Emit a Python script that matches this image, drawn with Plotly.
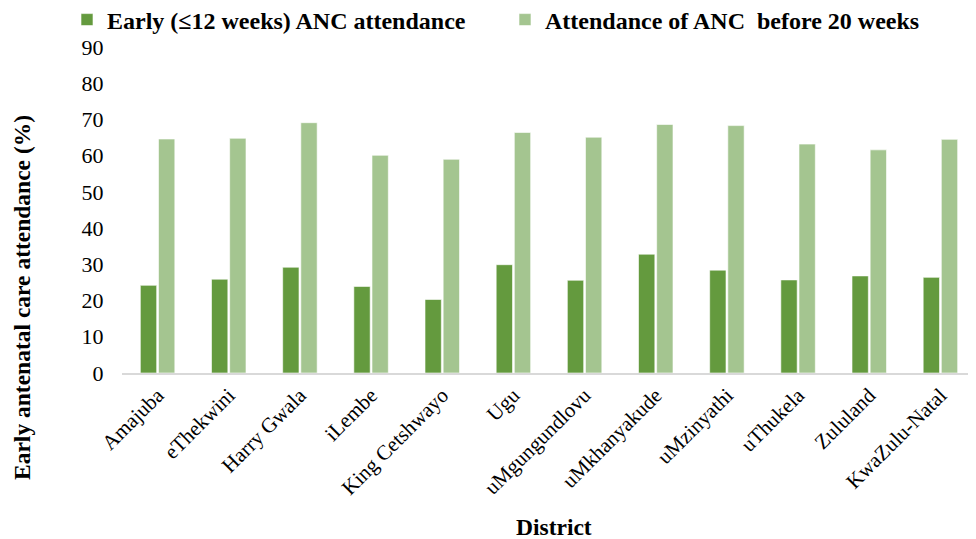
import plotly.graph_objects as go

districts = ["Amajuba", "eThekwini", "Harry Gwala", "iLembe", "King Cetshwayo", "Ugu",
             "uMgungundlovu", "uMkhanyakude", "uMzinyathi", "uThukela", "Zululand", "KwaZulu-Natal"]
early_12wk = [24.2, 25.9, 29.2, 23.9, 20.3, 29.9, 25.6, 32.8, 28.4, 25.7, 26.8, 26.4]
before_20wk = [64.6, 64.8, 69.1, 60.1, 59.0, 66.4, 65.1, 68.6, 68.3, 63.2, 61.6, 64.5]
y_ticks = [0, 10, 20, 30, 40, 50, 60, 70, 80, 90]

FONT = "Liberation Serif"
OFF = 8  # page body margin offset
W, H = 976 - OFF, 539 - OFF
L, R, T, B = 122 - OFF, 0, 47 - OFF, 166

fig = go.Figure()
fig.add_trace(go.Bar(x=districts, y=early_12wk, name="Early (≤12 weeks) ANC attendance",
                     legend="legend", showlegend=True,
                     marker=dict(color="#649A3E", line=dict(color="#FFFFFF", width=0.6))))
fig.add_trace(go.Bar(x=districts, y=before_20wk, name="Attendance of ANC  before 20 weeks",
                     legend="legend2", showlegend=True,
                     marker=dict(color="#A4C590", line=dict(color="#FFFFFF", width=0.6))))

plot_w = W - L - R
plot_h = H - T - B

leg_font = dict(family=FONT, size=24, color="black", weight="bold")
leg_y = 1 - (20 - OFF) / H
fig.update_layout(
    width=W, height=H,
    showlegend=True,
    margin=dict(l=L, r=R, t=T, b=B, autoexpand=False),
    paper_bgcolor="white", plot_bgcolor="white",
    barmode="group", bargap=0.49, bargroupgap=0.1,
    font=dict(family=FONT, size=20, color="black"),
    legend=dict(orientation="h", xref="container", yref="container",
                x=(67 - OFF) / W, y=leg_y, xanchor="left", yanchor="middle",
                font=leg_font, bgcolor="rgba(0,0,0,0)"),
    legend2=dict(orientation="h", xref="container", yref="container",
                 x=(505 - OFF) / W, y=leg_y, xanchor="left", yanchor="middle",
                 font=leg_font, bgcolor="rgba(0,0,0,0)"),
    xaxis=dict(tickangle=-45, tickfont=dict(family=FONT, size=21), showline=True,
               linecolor="#D9D9D9", linewidth=1.5, ticks="", showgrid=False, automargin=False),
    yaxis=dict(range=[0, 90], tickvals=y_ticks, tickfont=dict(family=FONT, size=22),
               showgrid=False, zeroline=False, showline=False, automargin=False,
               ticks="outside", ticklen=13, tickcolor="rgba(0,0,0,0)"),
    annotations=[
        dict(text="<b>Early antenatal care attendance (%)</b>",
             x=(22 - OFF - L) / plot_w, y=(H - B - (298 - OFF)) / plot_h,
             xref="paper", yref="paper", xanchor="center", yanchor="middle",
             showarrow=False, textangle=-90, font=dict(family=FONT, size=23.5)),
        dict(text="<b>District</b>",
             x=(554 - OFF - L) / plot_w, y=(H - B - (527 - OFF)) / plot_h,
             xref="paper", yref="paper", xanchor="center", yanchor="middle",
             showarrow=False, font=dict(family=FONT, size=23.5)),
    ],
)

fig.write_html("out.html")
